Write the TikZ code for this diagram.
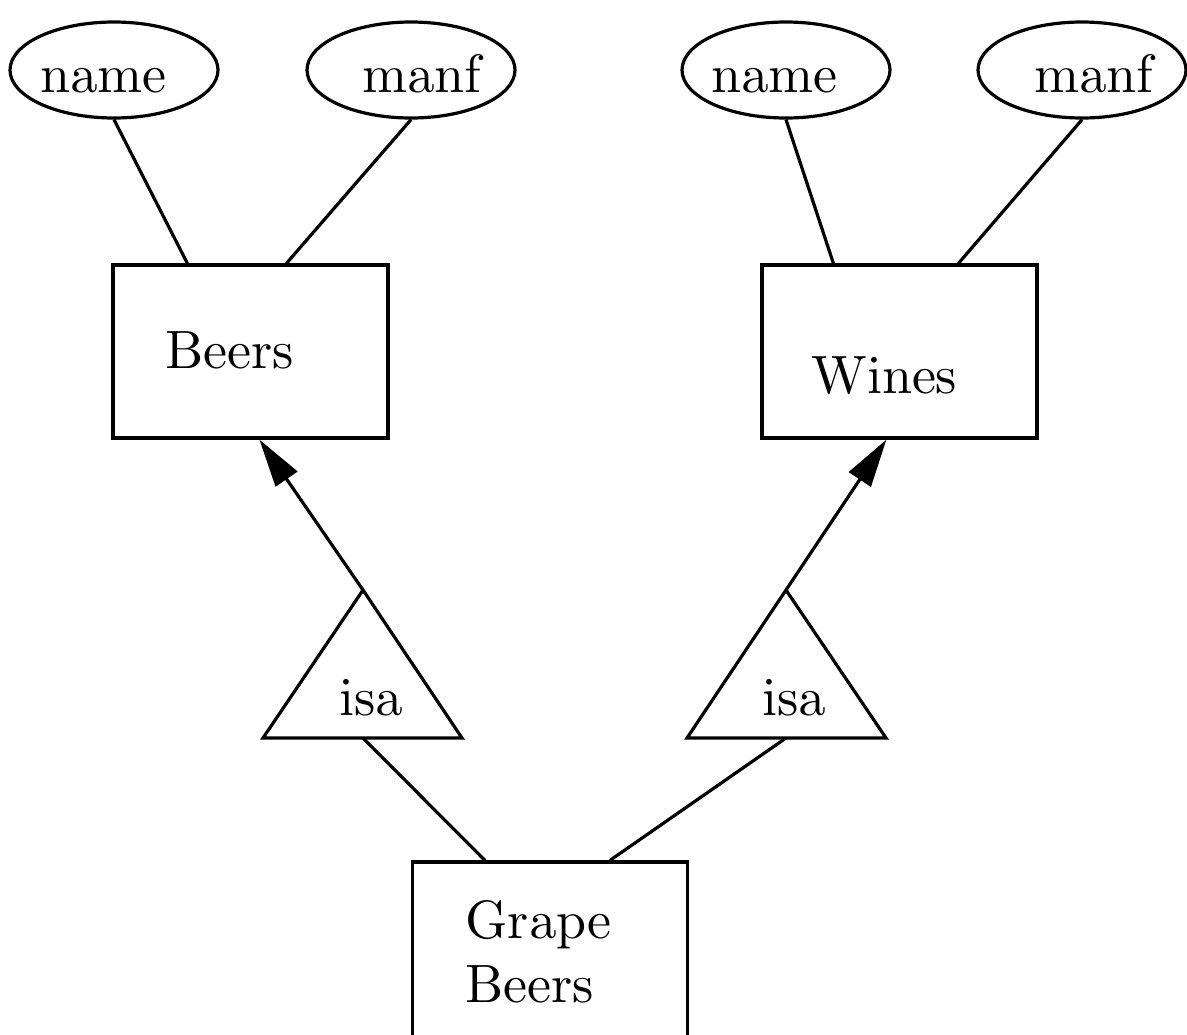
\documentclass[tikz,border=0pt]{standalone}
\usetikzlibrary{shapes.geometric,arrows.meta}
\font\erfont=cmr10 at 27pt
\begin{document}
\begin{tikzpicture}[x=0.5pt,y=-0.5pt,line width=1.6pt,
  attr/.style={draw,ellipse,minimum width=104pt,minimum height=48pt,inner sep=0pt},
  ent/.style={draw,rectangle,minimum width=137.5pt,inner sep=0pt},
  lbl/.style={anchor=base west,inner sep=0pt,font=\erfont},
  arr/.style={-{Triangle[length=24pt,width=13pt]}}]
\clip (0,0) rectangle (1187,1034);
% attributes
\node[attr] (nameL) at (114,70) {};
\node[attr] (manfL) at (411,70) {};
\node[attr] (nameR) at (786,70) {};
\node[attr] (manfR) at (1082,70) {};
\node[lbl] (tnameL) at (39,92) {name};
\node[lbl] (tmanfL) at (361,92) {manf};
\node[lbl] (tnameR) at (710,92) {name};
\node[lbl] (tmanfR) at (1033,92) {manf};
% entities
\node[ent,minimum height=86.5pt] (beers) at (250.5,351.5) {};
\node[ent,minimum height=86.5pt] (wines) at (899.5,351.5) {};
\node[ent,minimum height=119pt] (grape) at (550,981) {};
\node[lbl] (tbeers) at (164,368) {Beers};
\node[lbl] (twines) at (810,393) {Wines};
\node[lbl] (tgrape1) at (464,938) {Grape};
\node[lbl] (tgrape2) at (464,1002) {Beers};
% isa triangles
\coordinate (isaLtop) at (363,590);
\coordinate (isaLbot) at (363,738);
\coordinate (isaRtop) at (786,590);
\coordinate (isaRbot) at (786,738);
\draw (isaLtop) -- (263,738) -- (462,738) -- cycle;
\draw (isaRtop) -- (687,738) -- (886,738) -- cycle;
\node[lbl] (tisaL) at (338,715) {isa};
\node[lbl] (tisaR) at (761,715) {isa};
% attribute connectors
\draw (nameL.south) -- ([xshift=38pt]beers.north west);
\draw (manfL.south) -- ([xshift=87.5pt]beers.north west);
\draw (nameR.south) -- ([xshift=36.5pt]wines.north west);
\draw (manfR.south) -- ([xshift=99pt]wines.north west);
% isa arrows
\draw[arr] (isaLtop) -- ([xshift=74pt]beers.south west);
\draw[arr] (isaRtop) -- ([xshift=63pt]wines.south west);
\draw (isaLbot) -- ([xshift=37pt]grape.north west);
\draw (isaRbot) -- ([xshift=99.5pt]grape.north west);
\end{tikzpicture}
\end{document}
